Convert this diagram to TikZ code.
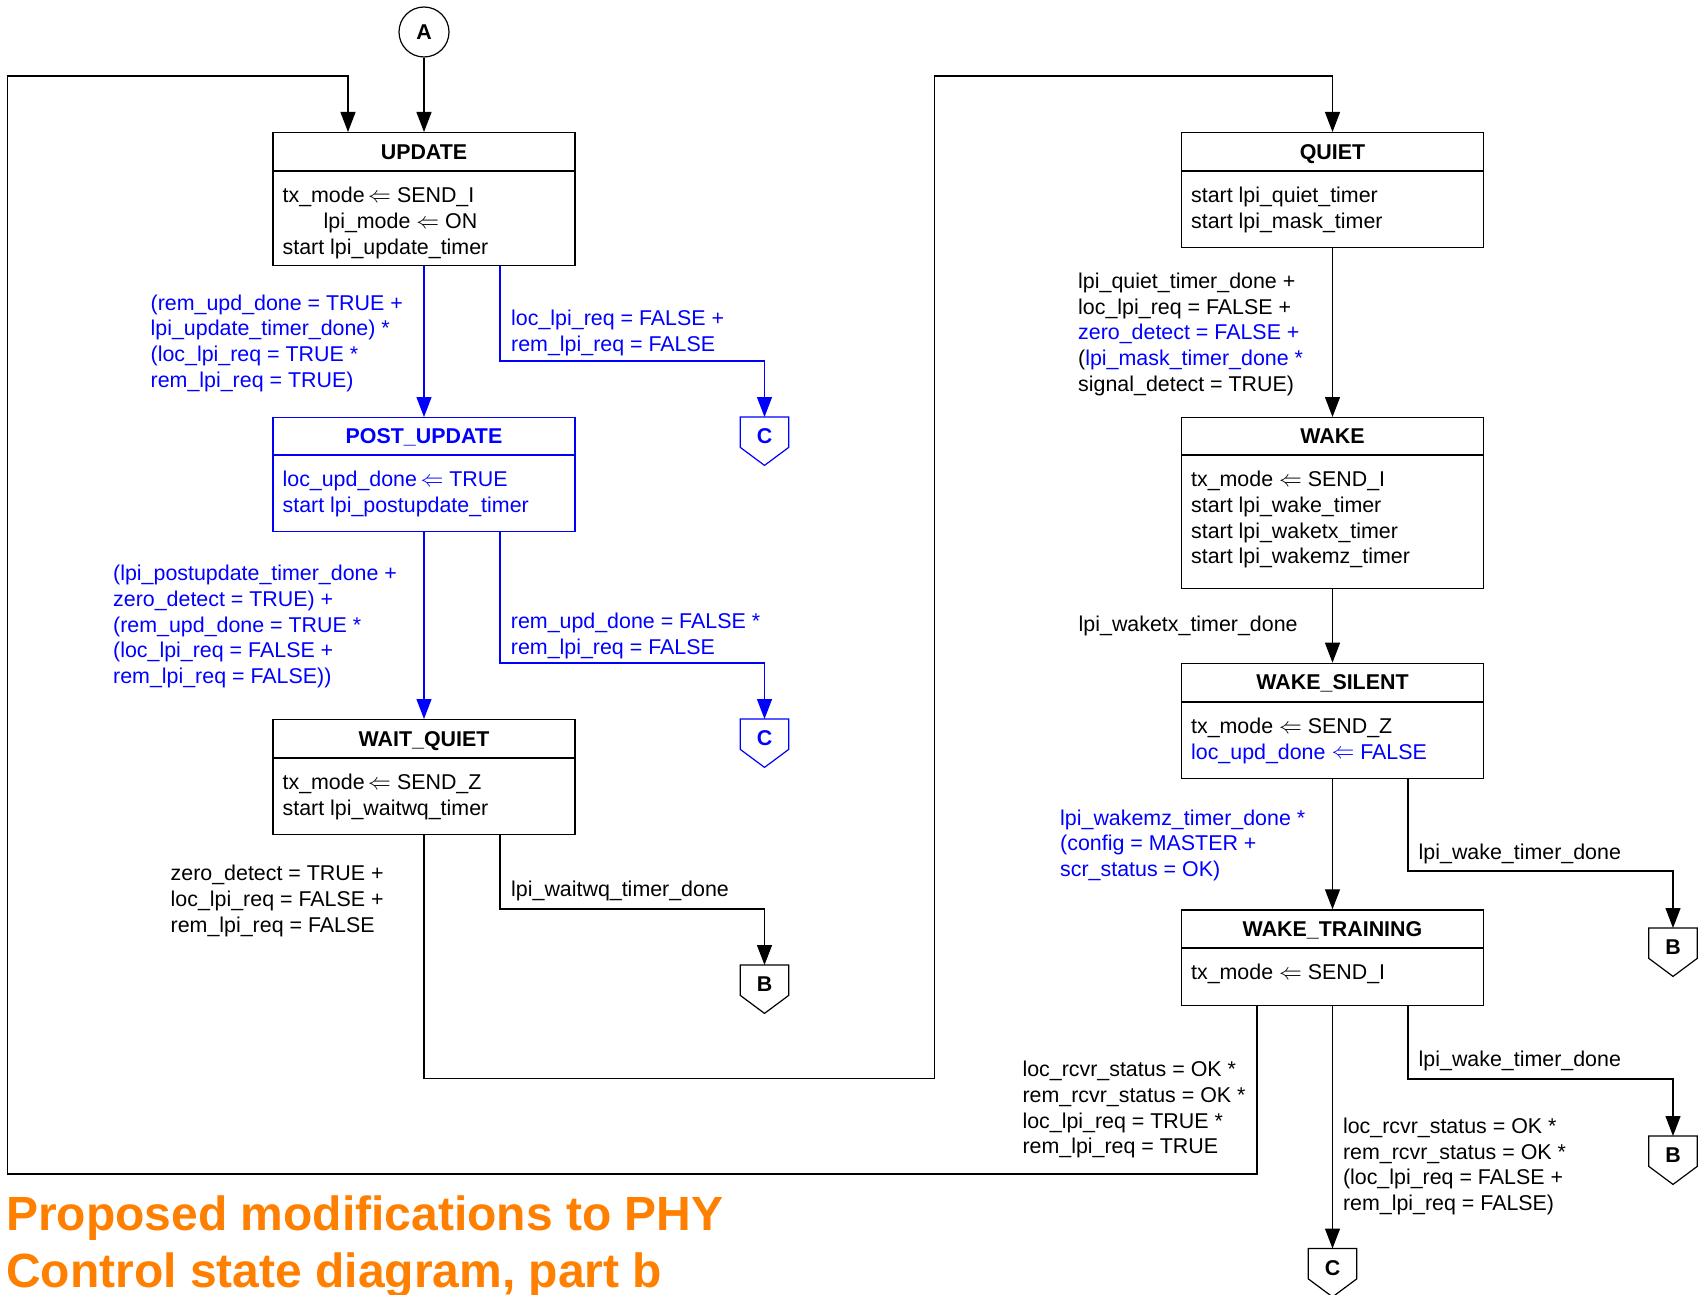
\documentclass[tikz,border=0pt]{standalone}
\usepackage{fontspec}
\setmainfont{Liberation Sans}
\usepackage{graphicx}
\usetikzlibrary{arrows.meta}

\definecolor{sdblue}{RGB}{0,0,255}
\definecolor{sdorange}{RGB}{255,128,0}

% assignment arrow used inside the state boxes
\newcommand{\lar}{\raisebox{0.5pt}{\scalebox{1.1}{$\Leftarrow$}}}
% body of a state box: fixed height, text hung from the top
\newcommand{\stlines}[2]{\parbox[c][#1][t]{282.8pt}{\raggedright\rule{0pt}{31pt}#2}}
% off-page connector: square top, pointed bottom
\newcommand{\offpagenode}[4]{%
  \node[offpage, text=#4] (#1) at #2 {#3};
  \draw[line width=1.2pt, draw=#4] (#1.north west) -- (#1.north east)
    -- ([yshift=18pt]#1.south east) -- (#1.south)
    -- ([yshift=18pt]#1.south west) -- cycle;}

\begin{document}
\begin{tikzpicture}[x=1pt, y=-1pt,
  font=\fontsize{21.4}{25.7}\selectfont,
  wire/.style={line width=1.2pt},
  arr/.style={wire, -{Triangle[length=20pt,width=15pt]}},
  sthead/.style={draw, line width=1.2pt, anchor=north, minimum width=302pt,
    minimum height=38pt, inner sep=0pt, text height=15.3pt, text depth=0pt,
    font=\fontsize{21.4}{25.7}\selectfont\bfseries},
  stbody/.style={draw, line width=1.2pt, anchor=north, inner xsep=9.6pt, inner ysep=0pt},
  lbl/.style={anchor=north west, inner sep=0pt, align=left},
  offpage/.style={anchor=north, minimum width=48pt, minimum height=48pt, inner sep=0pt,
    text height=15.3pt, text depth=10pt, font=\fontsize{21.4}{25.7}\selectfont\bfseries},
  title/.style={anchor=north west, inner sep=0pt, align=left, text=sdorange,
    font=\fontsize{48}{57}\selectfont\bfseries}
]
\useasboundingbox (0,0) rectangle (1698,1295);

% entry point
\node[draw, circle, line width=1.2pt, minimum size=50pt, inner sep=0pt,
  text height=15.3pt, text depth=0pt, font=\fontsize{21.4}{25.7}\selectfont\bfseries] (A) at (424,32) {A};

% ---- left column of states
\node[sthead] (update-h) at (424,132) {UPDATE};
\node[stbody] (update) at (update-h.south) {\stlines{94pt}{tx\_mode\,\lar\ SEND\_I\\\hspace*{41pt}lpi\_mode \lar{} ON\\start lpi\_update\_timer}};

\node[sthead, minimum height=37pt, draw=sdblue, text=sdblue] (postupdate-h) at (424,417) {POST\_UPDATE};
\node[stbody, draw=sdblue, text=sdblue] (postupdate) at (postupdate-h.south) {\stlines{76pt}{loc\_upd\_done\,\lar\ TRUE\\start lpi\_postupdate\_timer}};

\node[sthead] (waitquiet-h) at (424,719) {WAIT\_QUIET};
\node[stbody] (waitquiet) at (waitquiet-h.south) {\stlines{76pt}{tx\_mode\,\lar\ SEND\_Z\\start lpi\_waitwq\_timer}};

% ---- right column of states
\node[sthead] (quiet-h) at (1332.5,132) {QUIET};
\node[stbody] (quiet) at (quiet-h.south) {\stlines{76pt}{start lpi\_quiet\_timer\\start lpi\_mask\_timer}};

\node[sthead, minimum height=37pt] (wake-h) at (1332.5,417) {WAKE};
\node[stbody] (wake) at (wake-h.south) {\stlines{133pt}{tx\_mode \lar{} SEND\_I\\start lpi\_wake\_timer\\start lpi\_waketx\_timer\\start lpi\_wakemz\_timer}};

\node[sthead] (wakesilent-h) at (1332.5,662.7) {WAKE\_SILENT};
\node[stbody] (wakesilent) at (wakesilent-h.south) {\stlines{75.6pt}{tx\_mode \lar{} SEND\_Z\\\textcolor{sdblue}{loc\_upd\_done \lar{} FALSE}}};

\node[sthead, minimum height=37.4pt] (waketraining-h) at (1332.5,909.3) {WAKE\_TRAINING};
\node[stbody] (waketraining) at (waketraining-h.south) {\stlines{57pt}{tx\_mode \lar{} SEND\_I}};

% ---- off-page connectors
\offpagenode{cA}{(764.5,417)}{C}{sdblue}
\offpagenode{cB}{(764.5,719)}{C}{sdblue}
\offpagenode{bA}{(764.5,965)}{B}{black}
\offpagenode{bB}{(1673,928)}{B}{black}
\offpagenode{bC}{(1673,1136)}{B}{black}
\offpagenode{cC}{(1332.5,1248.5)}{C}{black}

% ---- transitions
\draw[arr] (A) -- (update-h.north);
\draw[arr, sdblue] (update.south) -- (postupdate-h.north);
\draw[arr, sdblue] ([xshift=76pt]update.south) |- ([yshift=56pt]cA.north) -- (cA.north);
\draw[arr, sdblue] (postupdate.south) -- (waitquiet-h.north);
\draw[arr, sdblue] ([xshift=76pt]postupdate.south) |- ([yshift=56pt]cB.north) -- (cB.north);
\draw[arr] ([xshift=76pt]waitquiet.south) |- ([yshift=56pt]bA.north) -- (bA.north);

\coordinate (midB) at (934.5,1078.6);
\coordinate (midT) at (934.5,76);
\draw[arr] (waitquiet.south) |- (midB) -- (midT) -| (quiet-h.north);

\draw[arr] (quiet.south) -- (wake-h.north);
\draw[arr] (wake.south) -- (wakesilent-h.north);
\draw[arr] (wakesilent.south) -- (waketraining-h.north);
\draw[arr] ([xshift=75.5pt]wakesilent.south) |- ([yshift=57pt]bB.north) -- (bB.north);
\draw[arr] ([xshift=75.5pt]waketraining.south) |- ([yshift=57pt]bC.north) -- (bC.north);
\draw[arr] (waketraining.south) -- (cC.north);

\coordinate (outB) at (7.6,1174);
\coordinate (outT) at (7.6,76);
\draw[arr] ([xshift=-75.5pt]waketraining.south) |- (outB) -- (outT) -| ([xshift=-76pt]update-h.north);

% ---- transition conditions
\node[lbl, text=sdblue] (g-upd-post) at (150.5,292) {\strut(rem\_upd\_done = TRUE +\\lpi\_update\_timer\_done) *\\(loc\_lpi\_req = TRUE *\\rem\_lpi\_req = TRUE)};
\node[lbl, text=sdblue] (g-upd-c) at (511,307.7) {\strut loc\_lpi\_req = FALSE +\\rem\_lpi\_req = FALSE};
\node[lbl, text=sdblue] (g-post-wq) at (113,562.7) {\strut(lpi\_postupdate\_timer\_done +\\zero\_detect = TRUE) +\\(rem\_upd\_done = TRUE *\\(loc\_lpi\_req = FALSE +\\rem\_lpi\_req = FALSE))};
\node[lbl, text=sdblue] (g-post-c) at (510.7,610.3) {\strut rem\_upd\_done = FALSE *\\rem\_lpi\_req = FALSE};
\node[lbl] (g-wq-quiet) at (170.5,862.6) {\strut zero\_detect = TRUE +\\loc\_lpi\_req = FALSE +\\rem\_lpi\_req = FALSE};
\node[lbl] (g-wq-b) at (511,878.7) {\strut lpi\_waitwq\_timer\_done};

\node[lbl] (g-quiet-wake) at (1078,270.3) {\strut lpi\_quiet\_timer\_done +\\loc\_lpi\_req = FALSE +\\\textcolor{sdblue}{zero\_detect = FALSE +}\\(\textcolor{sdblue}{lpi\_mask\_timer\_done *}\\signal\_detect = TRUE)};
\node[lbl] (g-wake-ws) at (1078.5,613.7) {\strut lpi\_waketx\_timer\_done};
\node[lbl, text=sdblue] (g-ws-wt) at (1060,807) {\strut lpi\_wakemz\_timer\_done *\\(config = MASTER +\\scr\_status = OK)};
\node[lbl] (g-ws-b) at (1418.5,841) {\strut lpi\_wake\_timer\_done};
\node[lbl] (g-wt-upd) at (1022.3,1058.7) {\strut loc\_rcvr\_status = OK *\\rem\_rcvr\_status = OK *\\loc\_lpi\_req = TRUE *\\rem\_lpi\_req = TRUE};
\node[lbl] (g-wt-c) at (1342.8,1115.3) {\strut loc\_rcvr\_status = OK *\\rem\_rcvr\_status = OK *\\(loc\_lpi\_req = FALSE +\\rem\_lpi\_req = FALSE)};
\node[lbl] (g-wt-b) at (1418.5,1048.7) {\strut lpi\_wake\_timer\_done};

% ---- caption
\node[title] (title) at (6,1190) {\strut Proposed modifications to PHY\\Control state diagram, part b};
\end{tikzpicture}
\end{document}
